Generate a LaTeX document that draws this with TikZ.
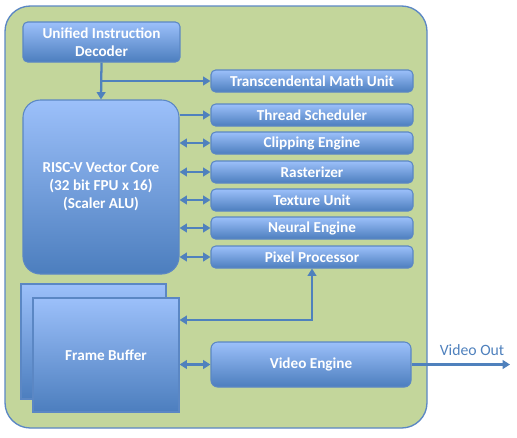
\documentclass[tikz,border=0pt]{standalone}
\usepackage{fontspec}
\setmainfont{Carlito}
\usetikzlibrary{arrows.meta,shadings}
\definecolor{greenbg}{HTML}{C3D69B}
\definecolor{edgeblue}{HTML}{5B87C4}
\definecolor{arrblue}{HTML}{4F81BD}
\definecolor{boxtop}{HTML}{9CC0FA}
\definecolor{boxbot}{HTML}{4C7EBE}
\tikzset{
  blk/.style={draw=edgeblue, line width=0.8pt, top color=boxtop, bottom color=boxbot,
    text=white, font=\fontsize{11.4}{13.6}\selectfont\bfseries, align=center, inner sep=0pt},
  rblk/.style={blk, rounded corners=3.5pt},
  unit/.style={rblk, minimum width=151.5pt, minimum height=16.5pt},
  arr/.style={draw=arrblue, line width=1.7pt, -{Triangle[length=5.5pt,width=6.5pt]}},
  darr/.style={draw=arrblue, line width=1.7pt, {Triangle[length=5.5pt,width=6.5pt]}-{Triangle[length=5.5pt,width=6.5pt]}},
}
\begin{document}
\begin{tikzpicture}[x=0.75pt,y=-0.75pt]
\useasboundingbox (0,0) rectangle (517,437);
\node[draw=edgeblue, line width=1pt, fill=greenbg, rounded corners=19pt, minimum width=316.5pt, minimum height=316.5pt, inner sep=0pt] (chip) at (216,217) {};
\node[rblk, minimum width=117.75pt, minimum height=30pt] (dec) at (101.5,42) {Unified Instruction\\Decoder};
\node[blk, rounded corners=13pt, minimum width=117pt, minimum height=130.5pt] (core) at (101,187) {RISC-V Vector Core\\(32 bit FPU x 16)\\(Scaler ALU)};
\node[unit] (trans) at (312,81) {Transcendental Math Unit};
\node[unit] (thread) at (312,115) {Thread Scheduler};
\node[unit] (clip) at (312,143) {Clipping Engine};
\node[unit] (rast) at (312,172) {Rasterizer};
\node[unit] (tex) at (312,200) {Texture Unit};
\node[unit] (neural) at (312,228) {Neural Engine};
\node[unit] (pixel) at (312,257) {Pixel Processor};
\node[blk, minimum width=108.75pt, minimum height=86.25pt] (fbback) at (93.5,341.5) {};
\node[blk, minimum width=109.5pt, minimum height=85.5pt] (fb) at (106,355) {Frame Buffer};
\node[rblk, rounded corners=5pt, minimum width=150pt, minimum height=33.75pt] (video) at (311,364.5) {Video Engine};
\coordinate (vout) at (510,364.5);
\node[text=arrblue, font=\fontsize{11.8}{14}\selectfont] (voutlbl) at (472,350) {Video Out};
% connectors
\draw[arr] (dec.south) -- (core.north);
\draw[arr] (dec.south |- trans.west) -- (trans.west);
\draw[arr] (core.east |- thread.west) -- (thread.west);
\draw[darr] (core.east |- clip.west) -- (clip.west);
\draw[darr] (core.east |- rast.west) -- (rast.west);
\draw[darr] (core.east |- tex.west) -- (tex.west);
\draw[darr] (core.east |- neural.west) -- (neural.west);
\draw[darr] (core.east |- pixel.west) -- (pixel.west);
\draw[darr] (pixel.south) |- (fb.east |- 0,320);
\draw[darr] (fb.east |- video.west) -- (video.west);
\draw[arr] (video.east) -- (vout);
\end{tikzpicture}
\end{document}
